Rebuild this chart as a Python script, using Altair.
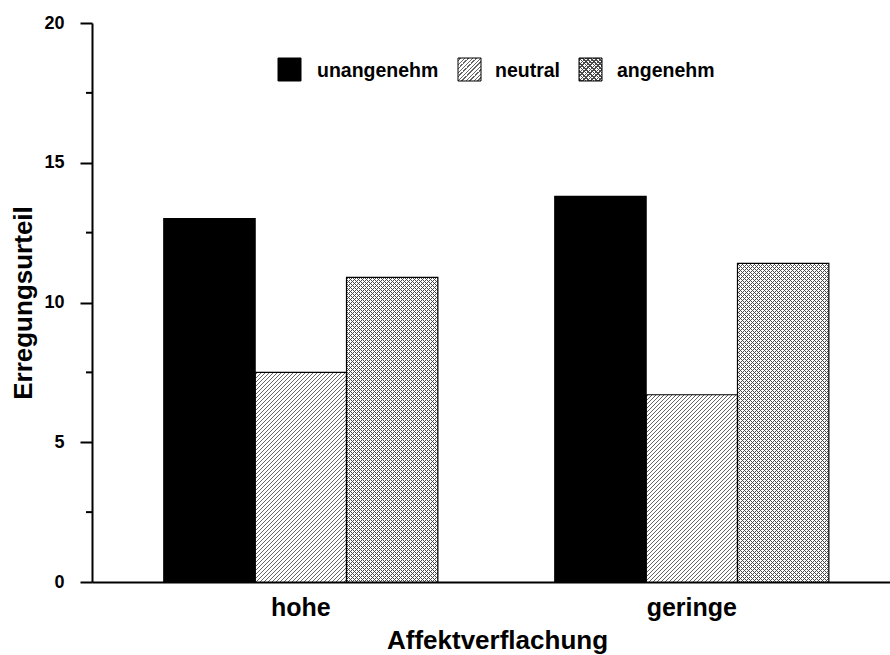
import math

import altair as alt
import pandas as pd

# ---- data -------------------------------------------------------------
GROUPS = ["hohe", "geringe"]
CONDITIONS = ["unangenehm", "neutral", "angenehm"]
VALUES_HOHE = [13.0, 7.5, 10.9]
VALUES_GERINGE = [13.8, 6.7, 11.4]
Y_TICKS = [0, 5, 10, 15, 20]
Y_MINOR = [2.5, 7.5, 12.5, 17.5]

values = {"hohe": VALUES_HOHE, "geringe": VALUES_GERINGE}
df = pd.DataFrame(
    [
        {"gruppe": g, "bedingung": c, "wert": values[g][i]}
        for g in GROUPS
        for i, c in enumerate(CONDITIONS)
    ]
)

# ---- layout -----------------------------------------------------------
PLOT_W, PLOT_H = 798, 559
Y_MAX = 20
PAD_INNER, PAD_OUTER, ALIGN = 0.299, 0.17, 0.54
FONT = "Liberation Sans"

step = PLOT_W / (len(GROUPS) - PAD_INNER + 2 * PAD_OUTER)
BAR_W = step * (1 - PAD_INNER) / len(CONDITIONS)

# stripes repeat every 4 px along a row, so they sit on the pixel grid
STRIPE_PERIOD = 4 / math.sqrt(2)


def hatch(w, h, direction, period, lw, ink, paper):
    """Linear gradient of thin 45-degree stripes for a w x h pixel box."""
    s = (w * w + h * h) / (w + h)
    if direction == "/":
        x1, y1, x2, y2 = 0, 0, w / s, h / s
    else:
        x1, y1, x2, y2 = 0, 1, w / s, 1 - h / s
    length = (w + h) / math.sqrt(2)
    stops = [alt.GradientStop(offset=0, color=paper)]
    k = 0
    while True:
        a = (k * period + period / 2) / length
        if a >= 1:
            break
        b = min(1.0, a + lw / length)
        for off, col in ((a, paper), (a, ink), (b, ink), (b, paper)):
            stops.append(alt.GradientStop(offset=round(off, 6), color=col))
        k += 1
    stops.append(alt.GradientStop(offset=1, color=paper))
    return alt.LinearGradient(
        gradient="linear", stops=stops,
        x1=round(x1, 6), y1=round(y1, 6), x2=round(x2, 6), y2=round(y2, 6),
    )


CLEAR = "rgba(0,0,0,0)"


def diag_fill(w, h):
    return hatch(w, h, "/", STRIPE_PERIOD, 0.8, "#666666", "white")


def cross_fills(w, h):
    return (
        hatch(w, h, "/", STRIPE_PERIOD, 0.8, "#4a4a4a", "white"),
        hatch(w, h, "\\", STRIPE_PERIOD, 0.8, "#4a4a4a", CLEAR),
    )


def px_height(v):
    return v * PLOT_H / Y_MAX


# ---- bars -------------------------------------------------------------
base = alt.Chart(df).encode(
    x=alt.X(
        "gruppe:N",
        sort=GROUPS,
        scale=alt.Scale(paddingInner=PAD_INNER, paddingOuter=PAD_OUTER, align=ALIGN),
        axis=alt.Axis(
            title="Affektverflachung",
            labelAngle=0,
            ticks=False,
            tickSize=0,
            domainColor="black",
            domainWidth=2,
            labelFont=FONT,
            labelFontSize=25,
            labelFontWeight="bold",
            labelColor="black",
            labelPadding=13,
            titleFont=FONT,
            titleFontSize=26,
            titleFontWeight="bold",
            titleColor="black",
            titlePadding=7,
            titleX=405,
        ),
    ),
    xOffset=alt.XOffset(
        "bedingung:N",
        sort=CONDITIONS,
        scale=alt.Scale(domain=CONDITIONS, paddingInner=0, paddingOuter=0),
    ),
    y=alt.Y(
        "wert:Q",
        scale=alt.Scale(domain=[0, Y_MAX], nice=False),
        axis=alt.Axis(
            title="Erregungsurteil",
            values=Y_TICKS,
            format="d",
            grid=False,
            tickSize=12,
            tickWidth=2,
            tickColor="black",
            domainColor="black",
            domainWidth=2,
            labelFont=FONT,
            labelFontSize=18,
            labelFontWeight="bold",
            labelColor="black",
            labelPadding=16,
            titleFont=FONT,
            titleFontSize=26,
            titleFontWeight="bold",
            titleColor="black",
            titlePadding=7,
        ),
    ),
)

layers = [
    base.transform_filter(alt.datum.bedingung == "unangenehm").mark_bar(
        fill="black", strokeWidth=0
    )
]

for g in GROUPS:
    v_neu = values[g][1]
    v_ang = values[g][2]
    layers.append(
        base.transform_filter(
            (alt.datum.gruppe == g) & (alt.datum.bedingung == "neutral")
        ).mark_bar(fill=diag_fill(BAR_W, px_height(v_neu)), strokeWidth=0)
    )
    f1, f2 = cross_fills(BAR_W, px_height(v_ang))
    sel = base.transform_filter(
        (alt.datum.gruppe == g) & (alt.datum.bedingung == "angenehm")
    )
    layers.append(sel.mark_bar(fill=f1, strokeWidth=0))
    layers.append(sel.mark_bar(fill=f2, strokeWidth=0))

# outlines on top of every bar
layers.append(base.mark_bar(fill="white", fillOpacity=0, stroke="black", strokeWidth=1.2))

# minor ticks on the value axis (same field, so the axis stays shared)
layers.append(
    alt.Chart(pd.DataFrame({"wert": Y_MINOR}))
    .mark_rule(color="black", strokeWidth=2)
    .encode(y=alt.Y("wert:Q"), x=alt.value(-6), x2=alt.value(0))
)

# ---- legend -----------------------------------------------------------
SWATCH = 23
SWATCH_X = [186, 366, 487]
LABEL_X = [225, 403, 525]
SWATCH_TOP = 35
LABEL_BASE = 54

legend_df = pd.DataFrame({"bedingung": CONDITIONS})
swatch_fills = [
    ["black"],
    [diag_fill(SWATCH, SWATCH)],
    list(cross_fills(SWATCH, SWATCH)),
]
for i, c in enumerate(CONDITIONS):
    item = alt.Chart(legend_df).transform_filter(alt.datum.bedingung == c)
    for f in swatch_fills[i]:
        layers.append(
            item.mark_rect(fill=f, strokeWidth=0).encode(
                x=alt.value(SWATCH_X[i]),
                x2=alt.value(SWATCH_X[i] + SWATCH),
                y=alt.value(SWATCH_TOP),
                y2=alt.value(SWATCH_TOP + SWATCH),
            )
        )
    layers.append(
        item.mark_rect(fill="white", fillOpacity=0, stroke="black", strokeWidth=1).encode(
            x=alt.value(SWATCH_X[i]),
            x2=alt.value(SWATCH_X[i] + SWATCH),
            y=alt.value(SWATCH_TOP),
            y2=alt.value(SWATCH_TOP + SWATCH),
        )
    )
    layers.append(
        item.mark_text(
            align="left",
            baseline="alphabetic",
            font=FONT,
            fontSize=19.5,
            fontWeight="bold",
            color="black",
        ).encode(
            x=alt.value(LABEL_X[i]),
            y=alt.value(LABEL_BASE),
            text="bedingung:N",
        )
    )

chart = (
    alt.layer(*layers)
    .properties(
        width=PLOT_W,
        height=PLOT_H,
        padding={"left": 92, "top": 23, "right": 0, "bottom": 73},
        autosize=alt.AutoSizeParams(type="none"),
        background="white",
    )
    .configure_view(strokeWidth=0)
)

chart.save("out.html", embed_options={"renderer": "svg", "actions": False})
